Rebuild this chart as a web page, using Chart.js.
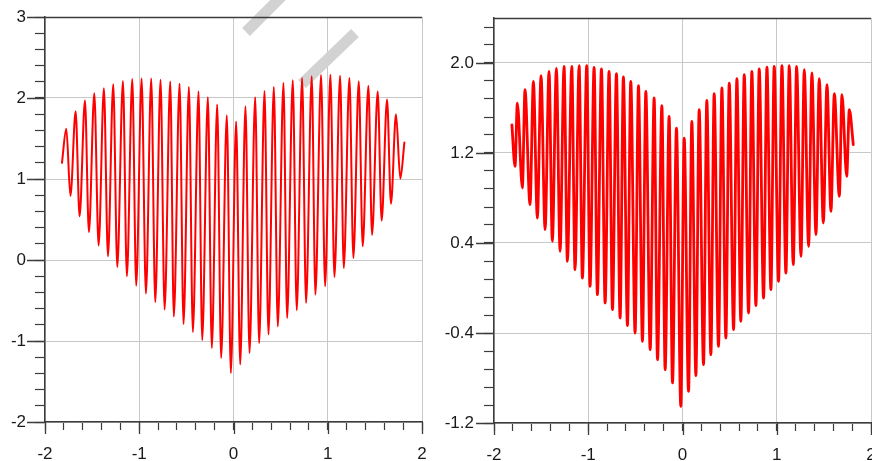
<!DOCTYPE html>
<html>
<head>
<meta charset="utf-8">
<script src="https://cdn.jsdelivr.net/npm/chart.js@4.4.1/dist/chart.umd.min.js"></script>
<style>
html, body { margin: 0; padding: 0; background: #fff; overflow: hidden; }
#wrap { position: relative; width: 872px; height: 461px; overflow: hidden; }
#left { position: absolute; left: 0; top: 0; width: 436px; height: 461px; }
#right { position: absolute; left: 436px; top: 0; width: 446px; height: 461px; }
</style>
</head>
<body>
<div id="wrap">
  <canvas id="left" width="436" height="461"></canvas>
  <canvas id="right" width="446" height="461"></canvas>
</div>
<script>
// left heart: peaks and troughs
const leftX = [-1.82, -1.774, -1.73, -1.675, -1.633, -1.576, -1.534, -1.477, -1.431, -1.375, -1.332, -1.276, -1.233, -1.173, -1.131, -1.074, -1.032, -0.975, -0.929, -0.873, -0.830, -0.774, -0.731, -0.671, -0.633, -0.572, -0.53, -0.473, -0.431, -0.371, -0.332, -0.272, -0.23, -0.173, -0.131, -0.071, -0.028, 0.028, 0.071, 0.127, 0.17, 0.23, 0.272, 0.329, 0.371, 0.428, 0.47, 0.53, 0.569, 0.629, 0.671, 0.728, 0.77, 0.83, 0.869, 0.929, 0.972, 1.028, 1.071, 1.131, 1.17, 1.23, 1.272, 1.329, 1.371, 1.431, 1.47, 1.53, 1.572, 1.629, 1.671, 1.724, 1.77, 1.813];
const leftY = [1.20, 1.62, 0.79, 1.835, 0.54, 1.97, 0.345, 2.06, 0.18, 2.12, 0.045, 2.17, -0.086, 2.21, -0.20, 2.235, -0.317, 2.24, -0.416, 2.24, -0.52, 2.225, -0.613, 2.205, -0.70, 2.177, -0.79, 2.136, -0.89, 2.08, -0.99, 2.01, -1.086, 1.92, -1.21, 1.786, -1.395, 1.71, -1.29, 1.897, -1.148, 2.01, -1.025, 2.086, -0.92, 2.136, -0.82, 2.185, -0.716, 2.218, -0.62, 2.247, -0.53, 2.267, -0.428, 2.284, -0.325, 2.288, -0.21, 2.276, -0.10, 2.247, 0.025, 2.206, 0.17, 2.152, 0.31, 2.08, 0.486, 1.98, 0.695, 1.80, 1.004, 1.45];

// right heart
const rightX = [-1.81, -1.777, -1.752, -1.699, -1.671, -1.618, -1.582, -1.540, -1.501, -1.458, -1.416, -1.381, -1.338, -1.299, -1.257, -1.221, -1.175, -1.140, -1.097, -1.062, -1.016, -0.981, -0.938, -0.903, -0.860, -0.821, -0.779, -0.743, -0.701, -0.662, -0.627, -0.584, -0.549, -0.503, -0.467, -0.425, -0.389, -0.343, -0.301, -0.265, -0.219, -0.184, -0.142, -0.106, -0.064, -0.018, 0.018, 0.064, 0.099, 0.142, 0.177, 0.223, 0.258, 0.301, 0.336, 0.382, 0.418, 0.460, 0.496, 0.542, 0.577, 0.619, 0.655, 0.701, 0.736, 0.779, 0.814, 0.860, 0.896, 0.938, 0.973, 1.019, 1.055, 1.097, 1.133, 1.175, 1.211, 1.257, 1.292, 1.338, 1.373, 1.416, 1.451, 1.494, 1.533, 1.575, 1.611, 1.664, 1.692, 1.742, 1.770, 1.812];
const rightY = [1.45, 1.081, 1.644, 0.889, 1.763, 0.741, 1.837, 0.622, 1.887, 0.519, 1.926, 0.415, 1.953, 0.326, 1.970, 0.237, 1.970, 0.163, 1.976, 0.089, 1.976, 0.015, 1.961, -0.059, 1.947, -0.133, 1.926, -0.193, 1.905, -0.267, 1.876, -0.335, 1.837, -0.400, 1.799, -0.474, 1.748, -0.548, 1.689, -0.637, 1.621, -0.726, 1.526, -0.844, 1.422, -1.052, 1.333, -0.919, 1.481, -0.779, 1.585, -0.681, 1.668, -0.593, 1.727, -0.519, 1.778, -0.444, 1.822, -0.370, 1.861, -0.296, 1.896, -0.222, 1.926, -0.157, 1.947, -0.089, 1.964, -0.015, 1.970, 0.059, 1.976, 0.133, 1.976, 0.207, 1.970, 0.281, 1.941, 0.370, 1.911, 0.474, 1.861, 0.578, 1.807, 0.681, 1.727, 0.815, 1.719, 0.993, 1.585, 1.274];

// tick labels
const xLabels = [-2, -1, 0, 1, 2];
const leftYLabels = [-2, -1, 0, 1, 2, 3];
const rightYLabels = [-1.2, -0.4, 0.4, 1.2, 2.0];

const axisColor = '#3c3c3c';
const gridColor = '#c8c8c8';
const font = { family: '"Liberation Sans", Arial, sans-serif', size: 17 };

function tickValues(min, max, step) {
  const out = [];
  for (let i = 0; min + i * step <= max + 1e-9; i++) out.push(Math.round((min + i * step) * 1000) / 1000);
  return out;
}
const isMajor = (v, list) => list.some(m => Math.abs(m - v) < 1e-6);

const majorTicks = {
  id: 'majorTicks',
  afterDraw(chart, args, opts) {
    const { ctx, chartArea: a, scales: { x, y } } = chart;
    ctx.save();
    ctx.strokeStyle = axisColor;
    ctx.lineWidth = 1.3;
    ctx.beginPath();
    // top border
    ctx.moveTo(a.left, a.top + 0.5);
    ctx.lineTo(a.right, a.top + 0.5);
    opts.yMajors.forEach(v => {
      const py = Math.round(y.getPixelForValue(v)) + 0.5;
      ctx.moveTo(a.left - 18, py);
      ctx.lineTo(a.left, py);
    });
    xLabels.forEach(v => {
      const px = Math.round(x.getPixelForValue(v)) + 0.5;
      ctx.moveTo(px, a.bottom);
      ctx.lineTo(px, a.bottom + 12);
    });
    ctx.stroke();
    ctx.restore();
  }
};

const watermark = {
  id: 'watermark',
  beforeDatasetsDraw(chart, args, opts) {
    if (!opts.on) return;
    const ctx = chart.ctx;
    ctx.save();
    ctx.strokeStyle = '#d2d2d2';
    ctx.lineWidth = 11;
    ctx.lineCap = 'butt';
    ctx.beginPath();
    ctx.moveTo(246, 32);
    ctx.lineTo(290, -12);
    ctx.moveTo(302, 84);
    ctx.lineTo(355, 33);
    ctx.stroke();
    ctx.restore();
  }
};

function makeChart(id, xs, ys, cfg) {
  const yTicks = tickValues(cfg.yMin, cfg.yTop, cfg.yStep);
  return new Chart(document.getElementById(id), {
    type: 'line',
    data: {
      datasets: [{
        data: xs.map((x, i) => ({ x: x, y: ys[i] })),
        borderColor: '#ff0000',
        borderWidth: cfg.lineWidth,
        borderJoinStyle: 'round',
        borderCapStyle: 'round',
        pointRadius: 0,
        cubicInterpolationMode: 'monotone',
        fill: false
      }]
    },
    options: {
      responsive: false,
      animation: false,
      devicePixelRatio: 1,
      events: [],
      layout: { padding: { top: cfg.top, right: cfg.right, left: 0, bottom: 0 } },
      scales: {
        x: {
          type: 'linear',
          min: -2, max: 2,
          afterBuildTicks: s => { s.ticks = tickValues(-2, 2, 0.2).map(v => ({ value: v })); },
          afterFit: s => { s.height = cfg.xHeight; s.paddingLeft = 0; s.paddingRight = 0; },
          grid: {
            color: c => (c.tick && isMajor(c.tick.value, xLabels)) ? gridColor : 'rgba(0,0,0,0)',
            tickColor: axisColor,
            tickLength: 8,
            tickWidth: 1.2,
            lineWidth: 1
          },
          border: { color: axisColor, width: 1.5 },
          ticks: {
            autoSkip: false, maxRotation: 0, padding: 14, font: font, color: '#1a1a1a',
            callback: v => isMajor(v, xLabels) ? String(Math.round(v)) : ''
          }
        },
        y: {
          type: 'linear',
          min: cfg.yMin, max: cfg.yMax,
          afterBuildTicks: s => { s.ticks = yTicks.map(v => ({ value: v })); },
          afterFit: s => { s.width = cfg.yWidth; s.paddingTop = 0; s.paddingBottom = 0; },
          grid: {
            color: c => (c.tick && isMajor(c.tick.value, cfg.yMajors)) ? gridColor : 'rgba(0,0,0,0)',
            tickColor: axisColor,
            tickLength: 10,
            tickWidth: 1.2,
            lineWidth: 1
          },
          border: { color: axisColor, width: 1.5 },
          ticks: {
            autoSkip: false, padding: cfg.yPad, font: font, color: '#1a1a1a',
            callback: v => isMajor(v, cfg.yMajors) ? cfg.fmt(v) : ''
          }
        }
      },
      plugins: {
        legend: { display: false },
        tooltip: { enabled: false },
        majorTicks: { yMajors: cfg.yMajors },
        watermark: { on: cfg.watermark }
      }
    },
    plugins: [watermark, majorTicks]
  });
}

makeChart('left', leftX, leftY, {
  yMin: -2, yMax: 3, yTop: 3, yStep: 0.2, yMajors: leftYLabels,
  fmt: v => String(Math.round(v)),
  top: 17, right: 14, xHeight: 39, yWidth: 45, yPad: 9,
  lineWidth: 2, watermark: true
});

makeChart('right', rightX, rightY, {
  yMin: -1.2, yMax: 2.4, yTop: 2.33, yStep: 0.16, yMajors: rightYLabels,
  fmt: v => v.toFixed(1),
  top: 18, right: 11, xHeight: 38, yWidth: 58, yPad: 10,
  lineWidth: 2.8, watermark: false
});
</script>
</body>
</html>
